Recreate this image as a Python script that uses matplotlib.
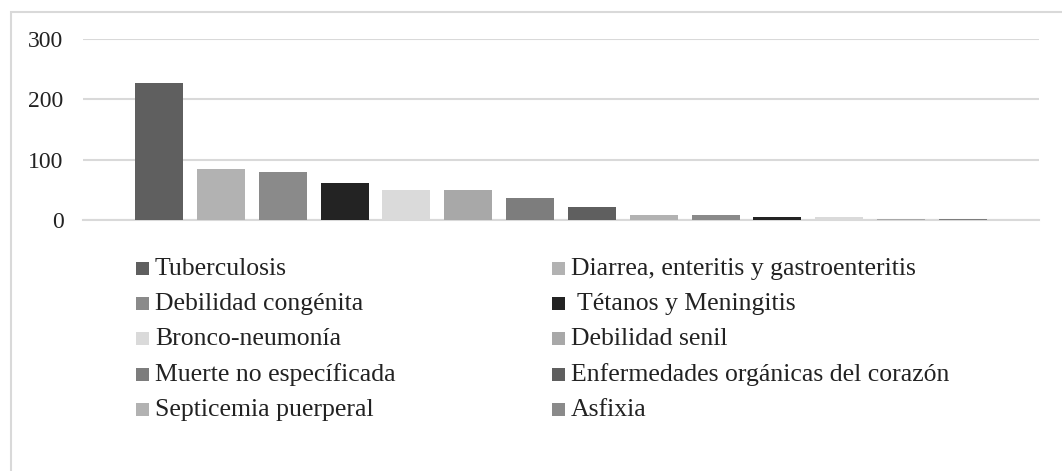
import matplotlib
matplotlib.use("Agg")
import matplotlib.pyplot as plt
from matplotlib.patches import Rectangle

plt.rcParams['font.family'] = ['Liberation Serif', 'DejaVu Serif']

# Data
causes = [
    "Tuberculosis",
    "Diarrea, enteritis y gastroenteritis",
    "Debilidad congénita",
    " Tétanos y Meningitis",
    "Bronco-neumonía",
    "Debilidad senil",
    "Muerte no específicada",
    "Enfermedades orgánicas del corazón",
    "Septicemia puerperal",
    "Asfixia",
    "", "", "", "",
]
values = [227, 85, 80, 61, 49, 49, 36, 21, 9, 9, 5, 5, 2, 2]
colors = ["#5f5f5f", "#b2b2b2", "#8a8a8a", "#232323", "#dadada", "#a8a8a8", "#7d7d7d",
          "#5f5f5f", "#b2b2b2", "#8a8a8a", "#232323", "#dadada", "#a8a8a8", "#7d7d7d"]
yticks = [0, 100, 200, 300]

W, H = 1062, 471
fig = plt.figure(figsize=(W / 100, H / 100), dpi=100)
fig.patch.set_facecolor("white")

# chart border (cropped: only left and top visible)
fig.patches.append(Rectangle((11 / W, -0.1), 1.2, (1 - 12 / H) + 0.1, transform=fig.transFigure,
                             fill=False, edgecolor="#d9d9d9", linewidth=1.5))

ax = fig.add_axes([83 / W, 1 - 220 / H, (1039 - 83) / W, (220 - 38.7) / H])
x = list(range(len(values)))
ax.bar(x, values, width=0.777, color=colors, zorder=3)
ax.set_xlim(-1.23, len(values) - 1 + 1.23)
ax.set_ylim(0, 300)
ax.set_yticks(yticks)
ax.set_yticklabels([str(v) for v in yticks], fontsize=17, color="#222222")
ax.tick_params(axis="y", length=0, pad=14)
ax.set_xticks([])
for s in ["top", "right", "left"]:
    ax.spines[s].set_visible(False)
ax.spines["bottom"].set_color("#d9d9d9")
ax.spines["bottom"].set_linewidth(1.5)
ax.grid(axis="y", color="#d9d9d9", linewidth=1.5, zorder=0)
ax.set_axisbelow(True)

# legend (row-wise, two columns)
col_x = [136, 552]
row_y = [268, 303, 338, 374, 409]
for i, name in enumerate(causes):
    if not name:
        continue
    r, c = divmod(i, 2)
    if r >= len(row_y):
        break
    mx, my = col_x[c], row_y[r]
    fig.patches.append(Rectangle((mx / W, 1 - (my + 6.5) / H), 13 / W, 13 / H,
                                 transform=fig.transFigure, facecolor=colors[i], edgecolor="none"))
    fig.text((mx + 19) / W, 1 - (my + 1) / H, name, fontsize=18.5, va="center", ha="left", color="#222222")

fig.savefig("out.png", dpi=100)
